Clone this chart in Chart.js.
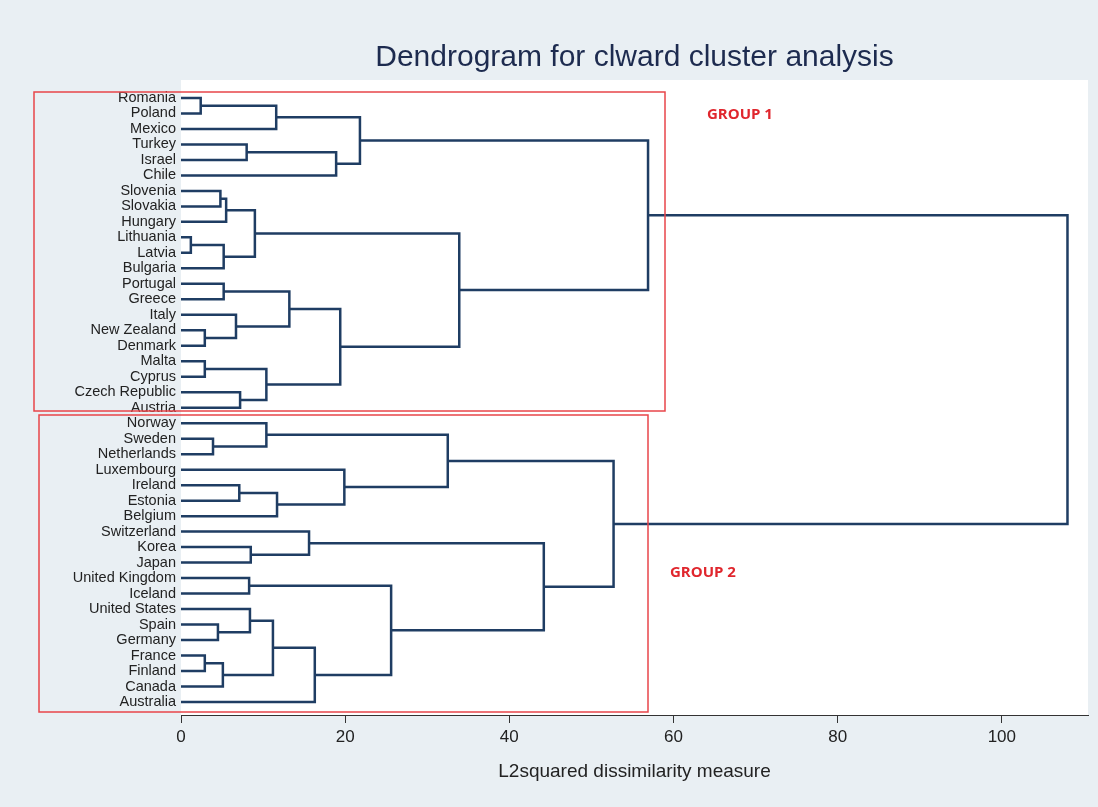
<!DOCTYPE html>
<html>
<head>
<meta charset="utf-8">
<script src="https://cdn.jsdelivr.net/npm/chart.js@4"></script>
<style>
  html, body { margin: 0; padding: 0; background: #e9eff3; }
  #wrap { width: 1098px; height: 807px; }
</style>
</head>
<body>
<div id="wrap"><canvas id="c"></canvas></div>
<script>
// leaves, top to bottom
const leaves = ['Romania', 'Poland', 'Mexico', 'Turkey', 'Israel', 'Chile', 'Slovenia', 'Slovakia',
  'Hungary', 'Lithuania', 'Latvia', 'Bulgaria', 'Portugal', 'Greece', 'Italy', 'New Zealand',
  'Denmark', 'Malta', 'Cyprus', 'Czech Republic', 'Austria', 'Norway', 'Sweden', 'Netherlands',
  'Luxembourg', 'Ireland', 'Estonia', 'Belgium', 'Switzerland', 'Korea', 'Japan', 'United Kingdom',
  'Iceland', 'United States', 'Spain', 'Germany', 'France', 'Finland', 'Canada', 'Australia'];

// merges: [child A, child B, height]; children are leaf names or earlier merge ids ("#n")
const merges = [
  ['Romania', 'Poland', 2.4],          // #0
  ['#0', 'Mexico', 11.6],              // #1
  ['Turkey', 'Israel', 8.0],           // #2
  ['#2', 'Chile', 18.9],               // #3
  ['#1', '#3', 21.8],                  // #4
  ['Slovenia', 'Slovakia', 4.8],       // #5
  ['#5', 'Hungary', 5.5],              // #6
  ['Lithuania', 'Latvia', 1.2],        // #7
  ['#7', 'Bulgaria', 5.2],             // #8
  ['#6', '#8', 9.0],                   // #9
  ['Portugal', 'Greece', 5.2],         // #10
  ['New Zealand', 'Denmark', 2.9],     // #11
  ['Italy', '#11', 6.7],               // #12
  ['#10', '#12', 13.2],                // #13
  ['Malta', 'Cyprus', 2.9],            // #14
  ['Czech Republic', 'Austria', 7.2],  // #15
  ['#14', '#15', 10.4],                // #16
  ['#13', '#16', 19.4],                // #17
  ['#9', '#17', 33.9],                 // #18
  ['#4', '#18', 56.9],                 // #19
  ['Sweden', 'Netherlands', 3.9],      // #20
  ['Norway', '#20', 10.4],             // #21
  ['Ireland', 'Estonia', 7.1],         // #22
  ['#22', 'Belgium', 11.7],            // #23
  ['Luxembourg', '#23', 19.9],         // #24
  ['#21', '#24', 32.5],                // #25
  ['Korea', 'Japan', 8.5],             // #26
  ['Switzerland', '#26', 15.6],        // #27
  ['United Kingdom', 'Iceland', 8.3],  // #28
  ['Spain', 'Germany', 4.5],           // #29
  ['United States', '#29', 8.4],       // #30
  ['France', 'Finland', 2.9],          // #31
  ['#31', 'Canada', 5.1],              // #32
  ['#30', '#32', 11.2],                // #33
  ['#33', 'Australia', 16.3],          // #34
  ['#28', '#34', 25.6],                // #35
  ['#27', '#35', 44.2],                // #36
  ['#25', '#36', 52.7],                // #37
  ['#19', '#37', 108.0]                // #38
];

const xTicks = [0, 20, 40, 60, 80, 100];

const nodes = [];
function node(ref) {
  if (ref[0] === '#') return nodes[+ref.slice(1)];
  return { y: leaves.indexOf(ref), h: 0 };
}
const datasets = [];
merges.forEach(([a, b, h]) => {
  const na = node(a), nb = node(b);
  nodes.push({ y: (na.y + nb.y) / 2, h: h });
  datasets.push({
    data: [{ x: na.h, y: na.y }, { x: h, y: na.y }, { x: h, y: nb.y }, { x: nb.h, y: nb.y }],
    showLine: true, borderColor: '#1f3d63', borderWidth: 2.5, pointRadius: 0, fill: false
  });
});

const decor = {
  id: 'decor',
  beforeDraw(chart) {
    const { ctx, chartArea: a } = chart;
    ctx.save();
    ctx.fillStyle = '#e9eff3';
    ctx.fillRect(0, 0, chart.width, chart.height);
    ctx.fillStyle = '#ffffff';
    ctx.fillRect(a.left, a.top, a.right - a.left, a.bottom - a.top);
    ctx.restore();
  },
  afterDraw(chart) {
    const { ctx, chartArea: a } = chart;
    ctx.save();
    ctx.fillStyle = '#1d2b4f';
    ctx.font = '30px "Liberation Sans", sans-serif';
    ctx.textAlign = 'center';
    ctx.textBaseline = 'middle';
    ctx.fillText('Dendrogram for clward cluster analysis', (a.left + a.right) / 2, 58);
    ctx.textAlign = 'left';
    ctx.strokeStyle = '#e8454a';
    ctx.lineWidth = 1.5;
    ctx.strokeRect(34, 92, 631, 319);
    ctx.strokeRect(39, 415, 609, 297);
    ctx.fillStyle = '#e0262d';
    ctx.font = 'bold 15px "Open Sans", sans-serif';
    ctx.fillText('GROUP 1', 707, 115);
    ctx.fillText('GROUP 2', 670, 573);
    ctx.restore();
  }
};

new Chart(document.getElementById('c'), {
  type: 'scatter',
  data: { datasets },
  plugins: [decor],
  options: {
    responsive: true, maintainAspectRatio: false, animation: false,
    layout: { padding: { right: 10, left: 0, top: 80, bottom: 24 } },
    plugins: {
      legend: { display: false },
      tooltip: { enabled: false },
      title: { display: false }
    },
    scales: {
      x: {
        type: 'linear', min: 0, max: 110.5,
        afterBuildTicks: s => { s.ticks = xTicks.map(v => ({ value: v })); },
        afterFit: s => { s.height = 68; },
        grid: { display: true, drawOnChartArea: false, drawTicks: true, tickLength: 8, color: '#333' },
        border: { display: true, color: '#333', width: 1 },
        ticks: { color: '#222', font: { family: 'Liberation Sans', size: 17 }, padding: 4 },
        title: { display: true, text: 'L2squared dissimilarity measure', color: '#222',
          font: { family: 'Liberation Sans', size: 19 }, padding: { top: 0, bottom: 0 } }
      },
      y: {
        type: 'linear', reverse: true, min: -1.16, max: 39.84,
        afterBuildTicks: s => { s.ticks = leaves.map((_, i) => ({ value: i })); },
        afterFit: s => { s.width = 181; },
        grid: { display: false },
        border: { display: false },
        ticks: { autoSkip: false, color: '#222', padding: -3,
          font: { family: 'Liberation Sans', size: 14.5 },
          callback: v => leaves[v] }
      }
    }
  }
});
</script>
</body>
</html>
